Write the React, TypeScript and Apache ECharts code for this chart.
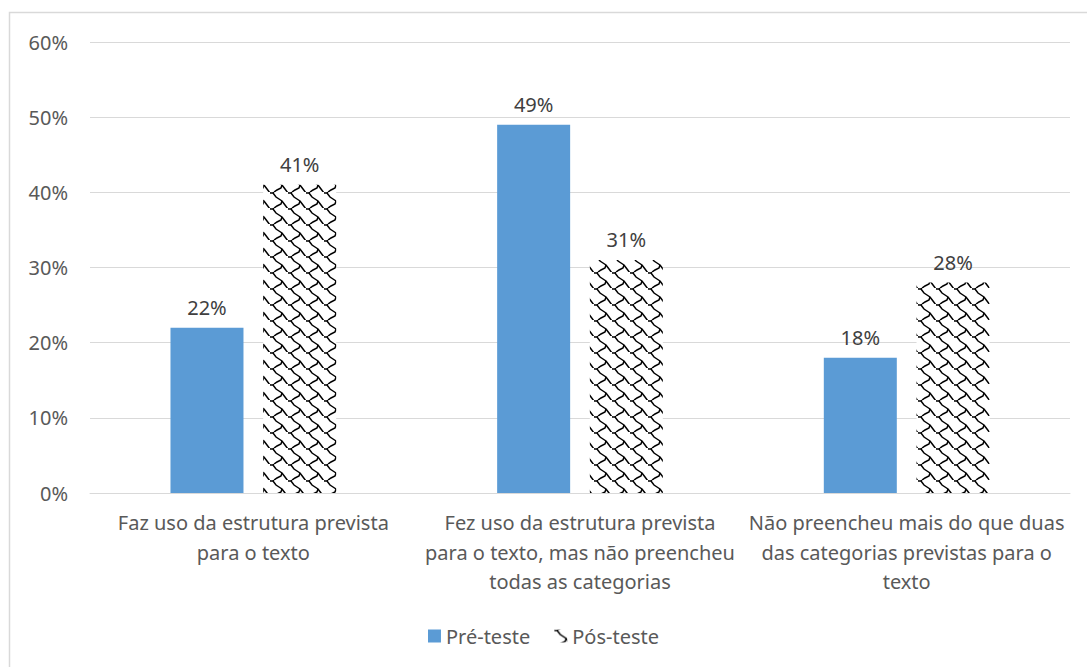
import React, { useEffect, useRef } from "react";
import * as echarts from "echarts";

const categories = [
  "Faz uso da estrutura prevista\npara o texto",
  "Fez uso da estrutura prevista\npara o texto, mas não preencheu\ntodas as categorias",
  "Não preencheu mais do que duas\ndas categorias previstas para o\ntexto",
];
const preTeste = [22, 49, 18];
const posTeste = [41, 31, 28];
const yTicks = [0, 10, 20, 30, 40, 50, 60];
const seriesNames = ["Pré-teste", "Pós-teste"];

const diag = "L3,1 L6,5 L9,7 L12,9 L15,13 L18,17";
const tileSvg =
  '<svg xmlns="http://www.w3.org/2000/svg" width="18" height="16" viewBox="0 0 18 16">' +
  '<rect width="18" height="16" fill="#ffffff"/>' +
  '<g stroke="#000" stroke-width="1.5" fill="none">' +
  '<path d="M0,1 ' + diag + '"/>' +
  '<path transform="translate(-18,-16)" d="M0,1 ' + diag + '"/>' +
  '<path d="M12,9 L11,12 L7,14 L4,16 M4,0 L3,1"/>' +
  "</g></svg>";
const tileUrl = "data:image/svg+xml;charset=utf-8," + encodeURIComponent(tileSvg);

export default function App() {
  const ref = useRef<HTMLDivElement>(null);
  useEffect(() => {
    if (!ref.current) return;
    const chart = echarts.init(ref.current, null, { renderer: "svg" });
    const font = "'Noto Sans', 'Open Sans', sans-serif";
    const pattern: any = {
      image: tileUrl,
      repeat: "repeat",
      imageWidth: 18,
      imageHeight: 16,
    };
    const labelStyle = {
      show: true,
      position: "top",
      distance: 10,
      fontFamily: font,
      fontSize: 20,
      color: "#404040",
      formatter: "{c}%",
    };
    chart.setOption({
      animation: false,
      backgroundColor: "#ffffff",
      textStyle: { fontFamily: font },
      graphic: [
        {
          type: "rect",
          shape: { x: 9.5, y: 12.5, width: 1100, height: 700 },
          style: { fill: "none", stroke: "#d9d9d9", lineWidth: 1.5 },
          silent: true,
        },
      ],
      grid: { left: 90, right: 17, top: 42, bottom: 174 },
      legend: {
        bottom: 16,
        left: "center",
        itemWidth: 13,
        itemHeight: 13,
        itemGap: 24,
        icon: "rect",
        textStyle: { fontFamily: font, fontSize: 20, color: "#595959" },
        data: seriesNames,
      },
      xAxis: {
        type: "category",
        data: categories,
        axisLine: { lineStyle: { color: "#d9d9d9" } },
        axisTick: { show: false },
        axisLabel: {
          fontFamily: font,
          fontSize: 20,
          color: "#595959",
          lineHeight: 29.5,
          margin: 15,
          interval: 0,
        },
      },
      yAxis: {
        type: "value",
        min: 0,
        max: 60,
        interval: 10,
        axisLine: { show: false },
        axisTick: { show: false },
        splitLine: { lineStyle: { color: "#d9d9d9" } },
        axisLabel: {
          fontFamily: font,
          fontSize: 20,
          color: "#595959",
          margin: 22,
          formatter: (v: number) => (yTicks.includes(v) ? v + "%" : ""),
        },
      },
      series: [
        {
          name: seriesNames[0],
          type: "bar",
          data: preTeste,
          barWidth: 73,
          barGap: "27%",
          itemStyle: { color: "#5b9bd5" },
          label: labelStyle,
        },
        {
          name: seriesNames[1],
          type: "bar",
          data: posTeste,
          barWidth: 73,
          barGap: "27%",
          itemStyle: { color: pattern },
          label: labelStyle,
        },
      ],
    });
    return () => chart.dispose();
  }, []);
  return (
    <div
      ref={ref}
      style={{ position: "fixed", left: 0, top: 0, width: 1087, height: 667 }}
    />
  );
}
